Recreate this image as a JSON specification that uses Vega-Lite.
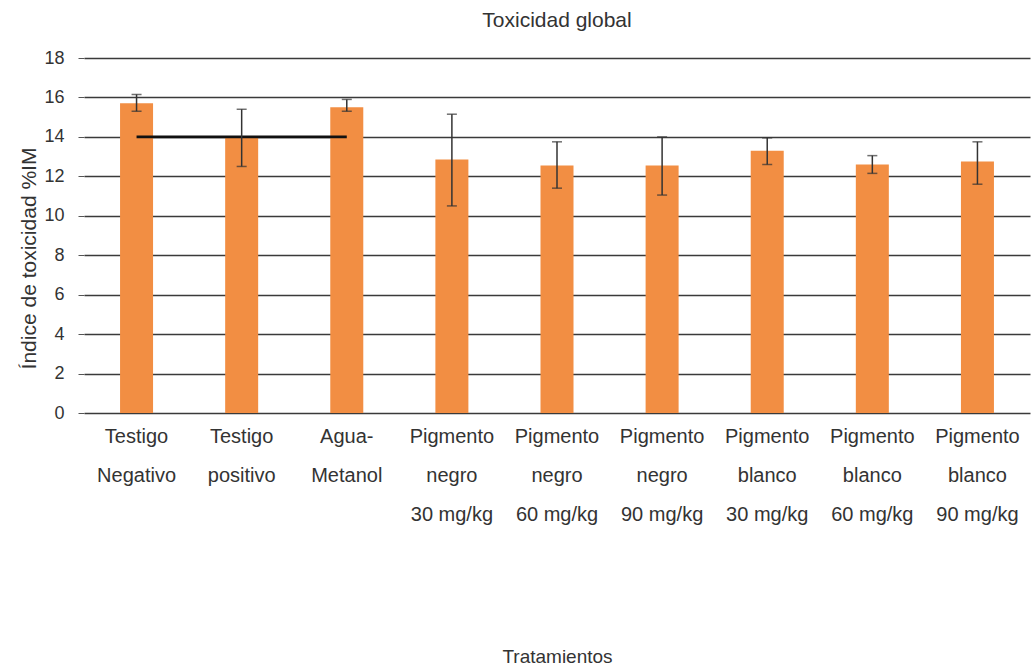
{
  "$schema": "https://vega.github.io/schema/vega-lite/v6.json",
  "width": 946,
  "height": 355,
  "autosize": {"type": "none"},
  "padding": {"left": 84, "top": 58, "right": 4, "bottom": 253},
  "background": "white",
  "config": {
    "view": {"stroke": null},
    "font": "Liberation Sans",
    "axisY": {
      "title": "Índice de toxicidad %IM",
      "titleFontSize": 21,
      "titleFontWeight": "normal",
      "titleColor": "#333333",
      "titlePadding": 4,
      "titleY": 200,
      "values": [0, 2, 4, 6, 8, 10, 12, 14, 16, 18],
      "labelFontSize": 18,
      "labelColor": "#333333",
      "labelPadding": 14,
      "tickSize": 6,
      "tickColor": "#555555",
      "domain": false,
      "grid": true,
      "gridColor": "#3a3a3a",
      "gridWidth": 1.4
    }
  },
  "title": {
    "text": "Toxicidad global",
    "fontSize": 21,
    "font": "Liberation Sans",
    "fontWeight": "normal",
    "color": "#333333",
    "anchor": "middle",
    "offset": 18
  },
  "datasets": {
    "tox": [
      {"tratamiento": "Testigo Negativo", "indice": 15.7, "bajo": 15.3, "alto": 16.15},
      {"tratamiento": "Testigo positivo", "indice": 14.0, "bajo": 12.5, "alto": 15.4},
      {"tratamiento": "Agua-Metanol", "indice": 15.5, "bajo": 15.3, "alto": 15.9},
      {"tratamiento": "Pigmento negro 30 mg/kg", "indice": 12.85, "bajo": 10.5, "alto": 15.15},
      {"tratamiento": "Pigmento negro 60 mg/kg", "indice": 12.55, "bajo": 11.4, "alto": 13.75},
      {"tratamiento": "Pigmento negro 90 mg/kg", "indice": 12.55, "bajo": 11.05, "alto": 14.0},
      {"tratamiento": "Pigmento blanco 30 mg/kg", "indice": 13.3, "bajo": 12.6, "alto": 13.95},
      {"tratamiento": "Pigmento blanco 60 mg/kg", "indice": 12.6, "bajo": 12.15, "alto": 13.05},
      {"tratamiento": "Pigmento blanco 90 mg/kg", "indice": 12.75, "bajo": 11.6, "alto": 13.75}
    ],
    "marca": [
      {"desde": "Testigo Negativo", "hasta": "Agua-Metanol", "nivel": 14}
    ]
  },
  "encoding": {
    "x": {
      "field": "tratamiento",
      "type": "nominal",
      "sort": null,
      "scale": {"paddingInner": 0.686, "paddingOuter": 0.343},
      "axis": {
        "title": "Tratamientos",
        "titleFontSize": 19,
        "titleFontWeight": "normal",
        "titleColor": "#333333",
        "titlePadding": 123,
        "labelAngle": 0,
        "labelFontSize": 20,
        "labelColor": "#333333",
        "labelLineHeight": 39,
        "labelPadding": 13,
        "labelBaseline": "top",
        "ticks": false,
        "domain": false,
        "labelExpr": "datum.label == 'Agua-Metanol' ? ['Agua-', 'Metanol'] : (length(split(datum.label, ' ')) > 2 ? [split(datum.label, ' ')[0], split(datum.label, ' ')[1], split(datum.label, ' ')[2] + ' ' + split(datum.label, ' ')[3]] : split(datum.label, ' '))"
      }
    }
  },
  "layer": [
    {
      "data": {"name": "tox"},
      "mark": {"type": "bar", "color": "#F28E43"},
      "encoding": {
        "y": {
          "field": "indice",
          "type": "quantitative",
          "scale": {"domain": [0, 18], "nice": false},
          "title": "Índice de toxicidad %IM"
        }
      }
    },
    {
      "data": {"name": "marca"},
      "mark": {"type": "rule", "color": "#111111", "strokeWidth": 2.6},
      "encoding": {
        "x": {"field": "desde", "type": "nominal"},
        "x2": {"field": "hasta"},
        "y": {"field": "nivel", "type": "quantitative", "title": "Índice de toxicidad %IM"}
      }
    },
    {
      "data": {"name": "tox"},
      "mark": {"type": "errorbar", "color": "#333333", "thickness": 1.5, "ticks": {"size": 10, "thickness": 1.5}},
      "encoding": {
        "y": {"field": "bajo", "type": "quantitative", "title": "Índice de toxicidad %IM"},
        "y2": {"field": "alto"}
      }
    }
  ]
}
